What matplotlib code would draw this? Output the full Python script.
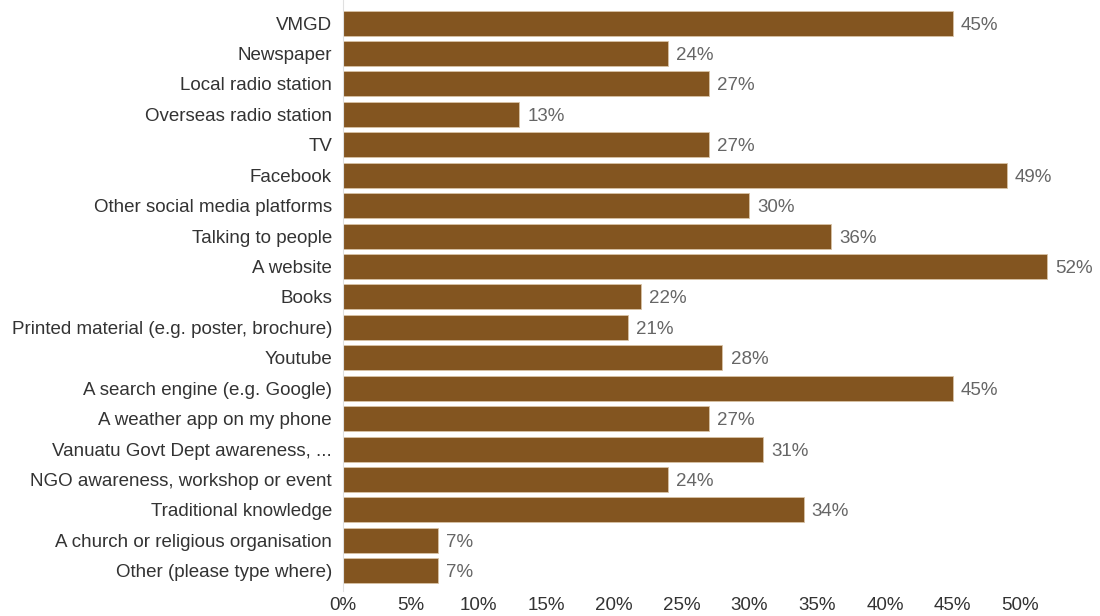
import matplotlib.pyplot as plt

plt.rcParams['font.family'] = ['Liberation Sans', 'DejaVu Sans']

sources = [
    'VMGD', 'Newspaper', 'Local radio station', 'Overseas radio station', 'TV',
    'Facebook', 'Other social media platforms', 'Talking to people', 'A website',
    'Books', 'Printed material (e.g. poster, brochure)', 'Youtube',
    'A search engine (e.g. Google)', 'A weather app on my phone',
    'Vanuatu Govt Dept awareness, ...', 'NGO awareness, workshop or event',
    'Traditional knowledge', 'A church or religious organisation',
    'Other (please type where)',
]
percent = [45, 24, 27, 13, 27, 49, 30, 36, 52, 22, 21, 28, 45, 27, 31, 24, 34, 7, 7]
xticks = [0, 5, 10, 15, 20, 25, 30, 35, 40, 45, 50]

fig = plt.figure(figsize=(11, 6.16), dpi=100)
ax = fig.add_axes([0.312, 0.0487, 0.6525, 0.9386])

ypos = list(range(len(sources)))
ax.barh(ypos, percent, height=0.82, color='#835520', edgecolor='#d9c3a5', linewidth=0.6)

for y, v in zip(ypos, percent):
    ax.text(v + 0.6, y, f'{v}%', va='center_baseline', ha='left', fontsize=13.5, color='#666666')

ax.set_ylim(len(sources) - 0.5, -0.5)
ax.set_xlim(0, 53)
ax.set_yticks(ypos)
ax.set_yticklabels(sources, fontsize=13.5, color='#333333')
ax.set_xticks(xticks)
ax.set_xticklabels([f'{t}%' for t in xticks], fontsize=13.5, color='#333333')
ax.tick_params(axis='both', length=0)
ax.tick_params(axis='x', pad=8)
ax.tick_params(axis='y', pad=8)

for side in ['top', 'right', 'bottom']:
    ax.spines[side].set_visible(False)
ax.spines['left'].set_color('#e0e0e0')
ax.spines['left'].set_bounds(len(sources) - 0.5 + 0.15, -0.5 - 0.3)

fig.savefig('out.png', dpi=100)
